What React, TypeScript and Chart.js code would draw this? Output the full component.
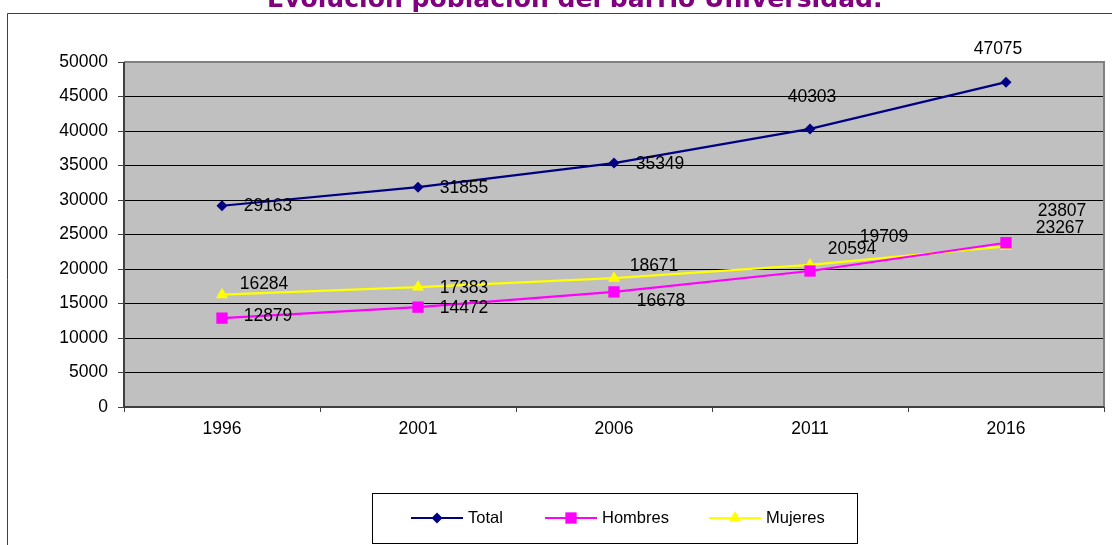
import React, { useEffect, useRef } from "react";
import { Chart, registerables } from "chart.js";

Chart.register(...registerables);

const years = ["1996", "2001", "2006", "2011", "2016"];
const total = [29163, 31855, 35349, 40303, 47075];
const hombres = [12879, 14472, 16678, 19709, 23807];
const mujeres = [16284, 17383, 18671, 20594, 23267];
const seriesNames = ["Total", "Hombres", "Mujeres"];
const titleText = "Evolución población del barrio Universidad.";

// label offsets (px) relative to each point, mimicking the original placement
const totalLabelOffsets = [[46, 0], [46, 1], [46, 1], [2, -32], [-8, -33]];
const hombresLabelOffsets = [[46, -2], [46, 1], [47, 9], [74, -34], [56, -32]];
const mujeresLabelOffsets = [[42, -10], [46, 1], [40, -12], [42, -16], [54, -18]];

const FONT = "'Liberation Sans', Arial, sans-serif";

export default function App() {
  const ref = useRef<HTMLCanvasElement | null>(null);

  useEffect(() => {
    if (!ref.current) return;
    const offsets = [totalLabelOffsets, hombresLabelOffsets, mujeresLabelOffsets];

    const decor = {
      id: "decor",
      beforeDraw(chart: any) {
        const { ctx, chartArea: a } = chart;
        ctx.save();
        ctx.fillStyle = "#ffffff";
        ctx.fillRect(0, 0, chart.width, chart.height);
        ctx.fillStyle = "#C0C0C0";
        ctx.fillRect(a.left, a.top, a.right - a.left, a.bottom - a.top);
        ctx.restore();
      },
      beforeDatasetsDraw(chart: any) {
        const { ctx, chartArea: a } = chart;
        ctx.save();
        ctx.strokeStyle = "#808080";
        ctx.lineWidth = 2;
        ctx.beginPath();
        ctx.moveTo(a.left, a.top);
        ctx.lineTo(a.right, a.top);
        ctx.lineTo(a.right, a.bottom);
        ctx.stroke();
        ctx.strokeStyle = "#404040";
        ctx.beginPath();
        ctx.moveTo(a.left, a.top);
        ctx.lineTo(a.left, a.bottom);
        ctx.lineTo(a.right, a.bottom);
        ctx.stroke();
        ctx.restore();
      },
      afterDatasetsDraw(chart: any) {
        const { ctx } = chart;
        ctx.save();
        ctx.font = `17.5px ${FONT}`;
        ctx.fillStyle = "#000";
        ctx.textAlign = "center";
        ctx.textBaseline = "middle";
        chart.data.datasets.forEach((ds: any, i: number) => {
          const meta = chart.getDatasetMeta(i);
          meta.data.forEach((pt: any, j: number) => {
            const [dx, dy] = offsets[i][j];
            ctx.fillText(String(ds.data[j]), pt.x + dx, pt.y + dy);
          });
        });
        ctx.restore();
      },
      afterDraw(chart: any) {
        const { ctx } = chart;
        ctx.save();
        // outer frame
        ctx.strokeStyle = "#404040";
        ctx.lineWidth = 1;
        ctx.beginPath();
        ctx.moveTo(7.5, chart.height);
        ctx.lineTo(7.5, 13.5);
        ctx.lineTo(chart.width, 13.5);
        ctx.stroke();
        // title (fit to measured width)
        ctx.font = `bold 22px 'DejaVu Sans', sans-serif`;
        const w = ctx.measureText(titleText).width;
        const size = (22 * 616) / w;
        ctx.font = `bold ${size}px 'DejaVu Sans', sans-serif`;
        ctx.fillStyle = "#800080";
        ctx.textAlign = "left";
        ctx.textBaseline = "alphabetic";
        ctx.fillText(titleText, 267, 7);
        // legend
        const lx = 372, ly = 493, lw = 485, lh = 50;
        ctx.fillStyle = "#fff";
        ctx.fillRect(lx, ly, lw, lh);
        ctx.strokeStyle = "#000";
        ctx.lineWidth = 1;
        ctx.strokeRect(lx + 0.5, ly + 0.5, lw, lh);
        const starts = [411, 545, 709];
        const cy = 518;
        chart.data.datasets.forEach((ds: any, i: number) => {
          const x0 = starts[i];
          ctx.strokeStyle = ds.borderColor;
          ctx.lineWidth = 2;
          ctx.beginPath();
          ctx.moveTo(x0, cy);
          ctx.lineTo(x0 + 52, cy);
          ctx.stroke();
          const r = ds.pointRadius;
          ctx.fillStyle = ds.pointBackgroundColor;
          ctx.beginPath();
          if (ds.pointStyle === "rectRot") {
            ctx.moveTo(x0 + 26, cy - r);
            ctx.lineTo(x0 + 26 + r, cy);
            ctx.lineTo(x0 + 26, cy + r);
            ctx.lineTo(x0 + 26 - r, cy);
            ctx.closePath();
          } else if (ds.pointStyle === "rect") {
            const s = r * Math.SQRT1_2;
            ctx.rect(x0 + 26 - s, cy - s, 2 * s, 2 * s);
          } else {
            ctx.moveTo(x0 + 26, cy - r);
            ctx.lineTo(x0 + 26 + r * 0.866, cy + r * 0.5);
            ctx.lineTo(x0 + 26 - r * 0.866, cy + r * 0.5);
            ctx.closePath();
          }
          ctx.fill();
          ctx.fillStyle = "#000";
          ctx.font = `16.5px ${FONT}`;
          ctx.textAlign = "left";
          ctx.textBaseline = "middle";
          ctx.fillText(ds.label, x0 + 57, cy);
        });
        ctx.restore();
      },
    };

    const chart = new Chart(ref.current, {
      type: "line",
      data: {
        labels: years,
        datasets: [
          {
            label: seriesNames[0],
            data: total,
            borderColor: "#000080",
            backgroundColor: "#000080",
            pointBackgroundColor: "#000080",
            pointBorderColor: "#000080",
            pointStyle: "rectRot",
            pointRadius: 5.5,
            pointBorderWidth: 0,
            borderWidth: 2.2,
            tension: 0,
          },
          {
            label: seriesNames[1],
            data: hombres,
            borderColor: "#FF00FF",
            backgroundColor: "#FF00FF",
            pointBackgroundColor: "#FF00FF",
            pointBorderColor: "#FF00FF",
            pointStyle: "rect",
            pointRadius: 8,
            pointBorderWidth: 0,
            borderWidth: 2.2,
            tension: 0,
          },
          {
            label: seriesNames[2],
            data: mujeres,
            borderColor: "#FFFF00",
            backgroundColor: "#FFFF00",
            pointBackgroundColor: "#FFFF00",
            pointBorderColor: "#FFFF00",
            pointStyle: "triangle",
            pointRadius: 7,
            pointBorderWidth: 0,
            borderWidth: 2.2,
            tension: 0,
          },
        ],
      } as any,
      options: {
        animation: false,
        responsive: false,
        devicePixelRatio: 1,
        layout: { padding: { top: 62, right: 8, left: 0, bottom: 0 } },
        plugins: {
          legend: { display: false },
          title: { display: false },
          tooltip: { enabled: false },
        },
        scales: {
          x: {
            type: "category",
            offset: true,
            grid: {
              offset: true,
              drawOnChartArea: false,
              tickLength: 5,
              color: "#404040",
            },
            border: { display: false },
            ticks: { color: "#000", font: { family: FONT, size: 17.5 }, padding: 7, maxRotation: 0 },
            afterFit: (s: any) => { s.height = 138; },
          },
          y: {
            min: 0,
            max: 50000,
            ticks: {
              stepSize: 5000,
              color: "#000",
              font: { family: FONT, size: 17.5 },
              padding: 10,
              callback: (v: any) => String(v),
            },
            grid: { color: "#000", lineWidth: 1, tickLength: 6, tickColor: "#404040" },
            border: { display: false },
            afterFit: (s: any) => { s.width = 124; },
          },
        },
      } as any,
      plugins: [decor],
    });
    return () => chart.destroy();
  }, []);

  return (
    <div style={{ position: "fixed", top: 0, left: 0, width: 1112, height: 545 }}>
      <canvas ref={ref} width={1112} height={545} style={{ display: "block" }} />
    </div>
  );
}
